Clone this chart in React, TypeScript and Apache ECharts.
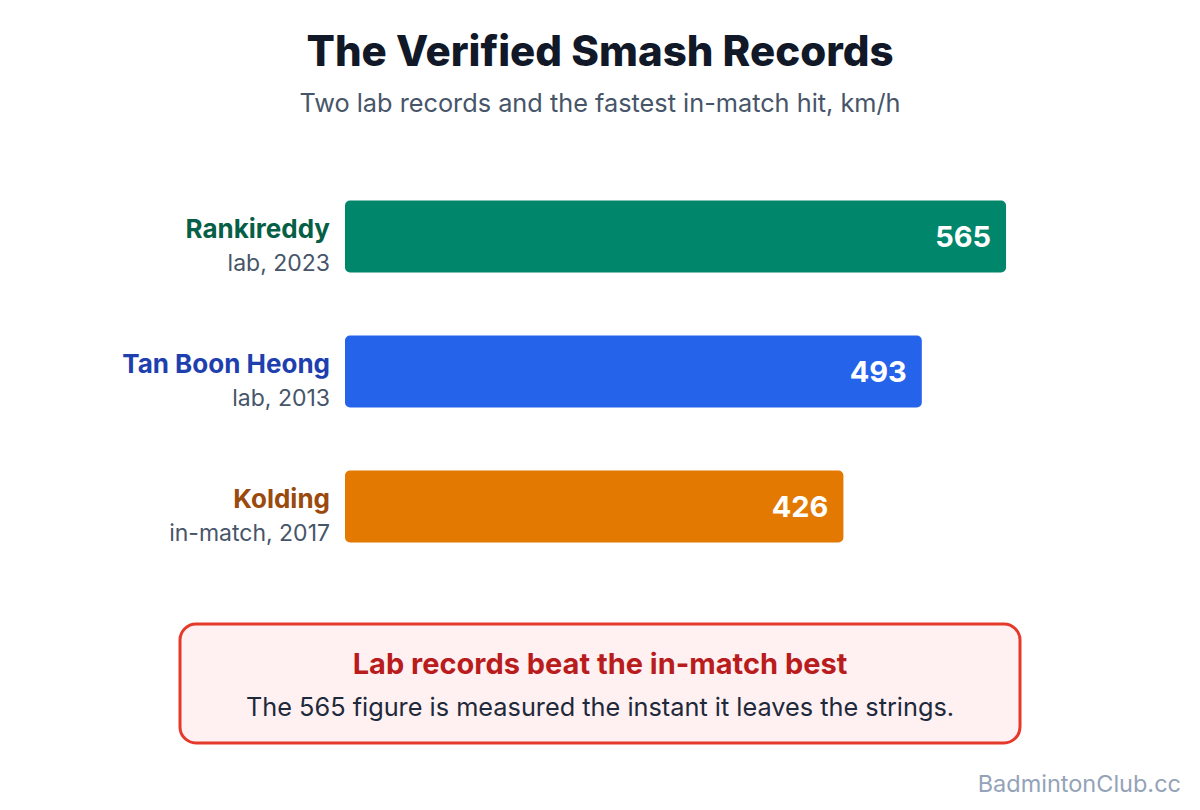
import React, { useEffect, useRef } from "react";
import * as echarts from "echarts";

const names = ["Rankireddy", "Tan Boon Heong", "Kolding"];
const subs = ["lab, 2023", "lab, 2013", "in-match, 2017"];
const values = [565, 493, 426];
const barColors = ["#00866B", "#2563EB", "#E37900"];
const nameColors = ["#065F46", "#1E40AF", "#9A4A0C"];

const FONT = "Inter, 'Noto Sans', sans-serif";

export default function App() {
  const ref = useRef<HTMLDivElement>(null);
  useEffect(() => {
    if (!ref.current) return;
    const chart = echarts.init(ref.current, undefined, { renderer: "svg" });
    const nameStyle = (c: string) => ({
      fontFamily: FONT, fontSize: 26, fontWeight: 700, color: c, lineHeight: 35, height: 35, align: "right",
    });
    chart.setOption({
      animation: false,
      backgroundColor: "#ffffff",
      textStyle: { fontFamily: FONT },
      title: [
        {
          text: "The Verified Smash Records",
          left: "center",
          top: 24,
          textStyle: { fontFamily: FONT, fontSize: 42, fontWeight: 800, color: "#111827" },
        },
        {
          text: "Two lab records and the fastest in-match hit, km/h",
          left: "center",
          top: 85,
          textStyle: { fontFamily: FONT, fontSize: 25.3, fontWeight: 400, color: "#475569" },
        },
      ],
      grid: { left: 345, top: 169, width: 702, height: 405, containLabel: false },
      xAxis: {
        type: "value",
        min: 0,
        max: 600,
        show: false,
      },
      yAxis: {
        type: "category",
        inverse: true,
        data: names,
        axisLine: { show: false },
        axisTick: { show: false },
        axisLabel: {
          margin: 15,
          align: "right",
          lineHeight: 35,
          padding: [18, 0, 0, 0],
          formatter: (v: string, i: number) => `{n${i}|${v}}\n{s|${subs[i]}}`,
          rich: {
            n0: nameStyle(nameColors[0]),
            n1: nameStyle(nameColors[1]),
            n2: nameStyle(nameColors[2]),
            s: { fontFamily: FONT, fontSize: 23, fontWeight: 400, color: "#475569", lineHeight: 35, height: 35, align: "right" },
          },
        },
      },
      series: [
        {
          type: "bar",
          barWidth: 72,
          data: values.map((v, i) => ({ value: v, itemStyle: { color: barColors[i], borderRadius: 5 } })),
          label: {
            show: true,
            position: "insideRight",
            distance: 15,
            color: "#ffffff",
            fontFamily: FONT,
            fontSize: 29,
            fontWeight: 700,
          },
        },
      ],
      graphic: [
        {
          type: "rect",
          shape: { x: 180, y: 624, width: 840, height: 119, r: 16 },
          style: { fill: "#FFF1F2", stroke: "#E5392B", lineWidth: 3 },
        },
        {
          type: "text",
          x: 600,
          y: 663,
          style: {
            text: "Lab records beat the in-match best",
            fill: "#B91C1C",
            font: `700 29px ${FONT}`,
            textAlign: "center",
            textVerticalAlign: "middle",
          },
        },
        {
          type: "text",
          x: 600,
          y: 706,
          style: {
            text: "The 565 figure is measured the instant it leaves the strings.",
            fill: "#1E293B",
            font: `400 25.3px ${FONT}`,
            textAlign: "center",
            textVerticalAlign: "middle",
          },
        },
        {
          type: "text",
          x: 1181,
          y: 783,
          style: {
            text: "BadmintonClub.cc",
            fill: "#94A3B8",
            font: `400 23.5px ${FONT}`,
            textAlign: "right",
            textVerticalAlign: "middle",
          },
        },
      ],
    });
    return () => chart.dispose();
  }, []);
  return <div ref={ref} style={{ position: "absolute", left: 0, top: 0, width: 1200, height: 810 }} />;
}
